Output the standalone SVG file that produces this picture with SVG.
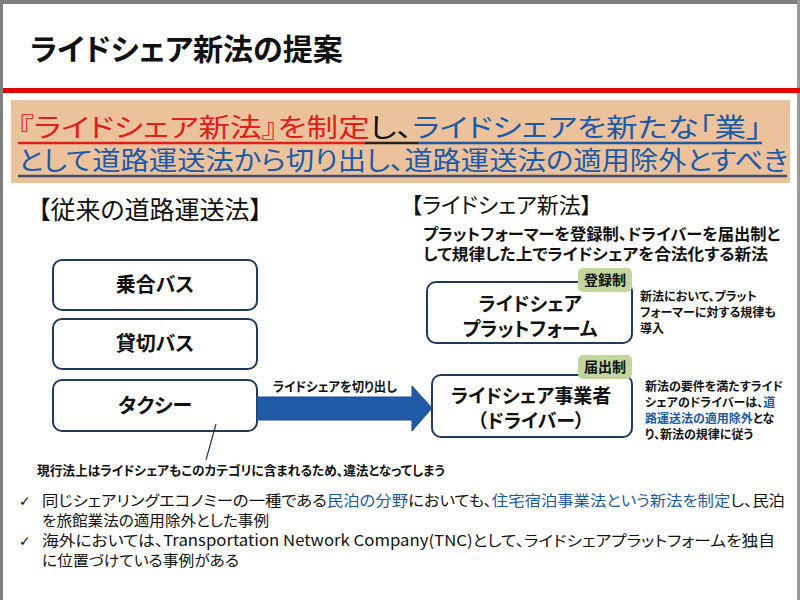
<svg xmlns="http://www.w3.org/2000/svg" width="800" height="600" viewBox="0 0 800 600">
<style>
text{font-family:"Noto Sans CJK JP","Noto Sans",sans-serif;font-feature-settings:"palt" 1;fill:#111}
.b{font-weight:bold}
.blue{fill:#1c5aa8}
.red{fill:#e02018}
.box{fill:#fff;stroke:#1f3a5f;stroke-width:2}
.tag{fill:#c3d69b}
.lbl{font-size:20px;font-weight:bold;text-anchor:middle}
.lbl2{font-size:19px;font-weight:bold;text-anchor:middle}
.tagt{font-size:14px;font-weight:bold;text-anchor:middle}
.note{font-size:12px;font-weight:bold}
.bul{font-size:15px}
</style>
<rect x="0" y="0" width="800" height="600" fill="#fff"/>
<rect x="0" y="0" width="800" height="4" fill="#7f7f7f"/>
<rect x="0" y="0" width="3" height="600" fill="#7f7f7f"/>
<rect x="797" y="0" width="3" height="600" fill="#9a9a9a"/>
<text x="30" y="60" class="b" font-size="30">ライドシェア新法の提案</text>
<rect x="3" y="88" width="797" height="5" fill="#e00000"/>

<g id="banner">
<rect x="11" y="100" width="779" height="83" fill="#ebc29c"/>
<text y="137" font-size="26" x="18" textLength="744" lengthAdjust="spacingAndGlyphs"><tspan class="red">『ライドシェア新法』を制定</tspan><tspan>し、</tspan><tspan class="blue">ライドシェアを新たな「業」</tspan></text>
<line x1="18" y1="143" x2="365" y2="143" stroke="#e02018" stroke-width="2.5"/>
<line x1="365" y1="143" x2="418" y2="143" stroke="#222" stroke-width="2.5"/>
<line x1="418" y1="143" x2="762" y2="143" stroke="#1c5aa8" stroke-width="2.5"/>
<text y="170" font-size="26" x="18" textLength="770" lengthAdjust="spacingAndGlyphs" class="blue">として道路運送法から切り出し、道路運送法の適用除外とすべき</text>
<line x1="18" y1="176" x2="787" y2="176" stroke="#3f4f66" stroke-width="2.5"/>
</g>

<text x="38" y="219" font-size="25">【従来の道路運送法】</text>
<text x="411" y="213" font-size="22">【ライドシェア新法】</text>
<text x="423" y="240" font-size="16" class="b" textLength="357" lengthAdjust="spacingAndGlyphs">プラットフォーマーを登録制、ドライバーを届出制と</text>
<text x="423" y="260" font-size="16" class="b" textLength="345" lengthAdjust="spacingAndGlyphs">して規律した上でライドシェアを合法化する新法</text>

<g id="node-noriai">
<rect class="box" x="53" y="260" width="204" height="50" rx="9"/>
<text class="lbl" x="155" y="292">乗合バス</text>
</g>
<g id="node-kashikiri">
<rect class="box" x="53" y="319" width="204" height="50" rx="9"/>
<text class="lbl" x="155" y="351">貸切バス</text>
</g>
<g id="node-taxi">
<rect class="box" x="53" y="380" width="204" height="51" rx="9"/>
<text class="lbl" x="155" y="413">タクシー</text>
</g>

<g id="node-platform">
<rect class="box" x="427" y="282" width="205" height="61" rx="9"/>
<text class="lbl2" x="530" y="311">ライドシェア</text>
<text class="lbl2" x="530" y="336">プラットフォーム</text>
<rect class="tag" x="578" y="268" width="54" height="24" rx="5"/>
<text class="tagt" x="605" y="285">登録制</text>
</g>
<g id="node-driver">
<rect class="box" x="432" y="375" width="200" height="62" rx="9"/>
<text class="lbl2" x="531" y="403">ライドシェア事業者</text>
<text class="lbl2" x="531" y="428">（ドライバー）</text>
<rect class="tag" x="578" y="355" width="54" height="24" rx="5"/>
<text class="tagt" x="605" y="372">届出制</text>
</g>

<g id="connectors">
<polygon points="257,397 412,397 412,386 432,408 412,431 412,420 257,420" fill="#1f5aa6" stroke="#1a4a8a" stroke-width="1"/>
<line x1="216" y1="424" x2="206" y2="460" stroke="#1f3a5f" stroke-width="1.2"/>
</g>
<text x="273" y="391" font-size="13" class="b" textLength="124" lengthAdjust="spacingAndGlyphs">ライドシェアを切り出し</text>

<text class="note" x="640" y="301">新法において、プラット</text>
<text class="note" x="640" y="317">フォーマーに対する規律も</text>
<text class="note" x="640" y="333">導入</text>
<text class="note" x="645" y="391">新法の要件を満たすライド</text>
<text class="note" x="645" y="407">シェアのドライバーは、<tspan class="blue">道</tspan></text>
<text class="note" x="645" y="423"><tspan class="blue">路運送法の適用除外</tspan>とな</text>
<text class="note" x="645" y="439">り、新法の規律に従う</text>

<text x="37" y="475" font-size="13" class="b" textLength="408" lengthAdjust="spacingAndGlyphs">現行法上はライドシェアもこのカテゴリに含まれるため、違法となってしまう</text>

<text x="19" y="506" font-size="14" style="font-family:'DejaVu Sans',sans-serif">✓</text>
<text class="bul" x="42" y="506" textLength="743" lengthAdjust="spacingAndGlyphs">同じシェアリングエコノミーの一種である<tspan class="blue">民泊の分野</tspan>においても、<tspan class="blue">住宅宿泊事業法という新法を制定</tspan>し、民泊</text>
<text class="bul" x="42" y="526" textLength="227" lengthAdjust="spacingAndGlyphs">を旅館業法の適用除外とした事例</text>
<text x="19" y="546" font-size="14" style="font-family:'DejaVu Sans',sans-serif">✓</text>
<text class="bul" x="42" y="546" textLength="733" lengthAdjust="spacingAndGlyphs">海外においては、Transportation Network Company(TNC)として、ライドシェアプラットフォームを独自</text>
<text class="bul" x="42" y="566" textLength="197" lengthAdjust="spacingAndGlyphs">に位置づけている事例がある</text>
</svg>
